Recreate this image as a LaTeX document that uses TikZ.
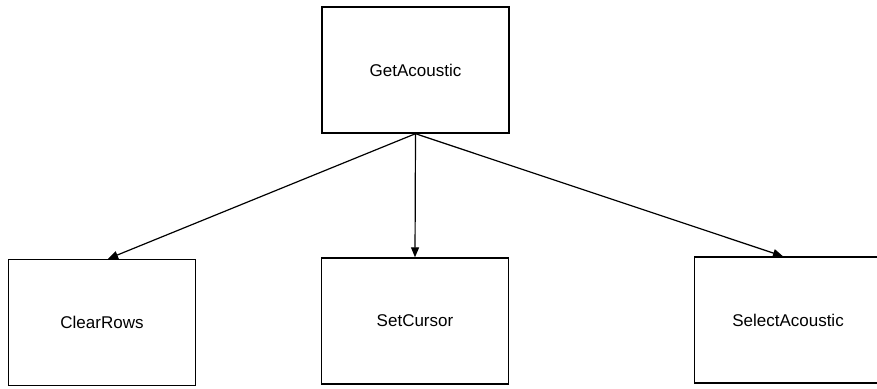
\documentclass[tikz,border=0pt]{standalone}
\usepackage{fontspec}
\setmainfont{Liberation Sans}
\usetikzlibrary{arrows.meta}
\begin{document}
\begin{tikzpicture}[x=1pt,y=-1pt,
  box/.style={draw=black,line width=1.4pt,rectangle,inner sep=0pt,minimum width=187pt,minimum height=126pt,font=\fontsize{17}{20}\selectfont},
  arr/.style={line width=1.2pt,-{Triangle[length=10pt,width=8pt]}}]
\useasboundingbox[fill=white] (0,0) rectangle (877,388);
\node[box] (g) at (415.5,70) {GetAcoustic};
\node[box] (c) at (102,322.5) {ClearRows};
\node[box] (s) at (415,321) {SetCursor};
\node[box] (a) at (788,320) {SelectAcoustic};
\draw[arr] (g.south) -- ([xshift=6pt]c.north);
\draw[arr] (g.south) -- (s.north);
\draw[arr] (g.south) -- ([xshift=-5pt]a.north);
\end{tikzpicture}
\end{document}
